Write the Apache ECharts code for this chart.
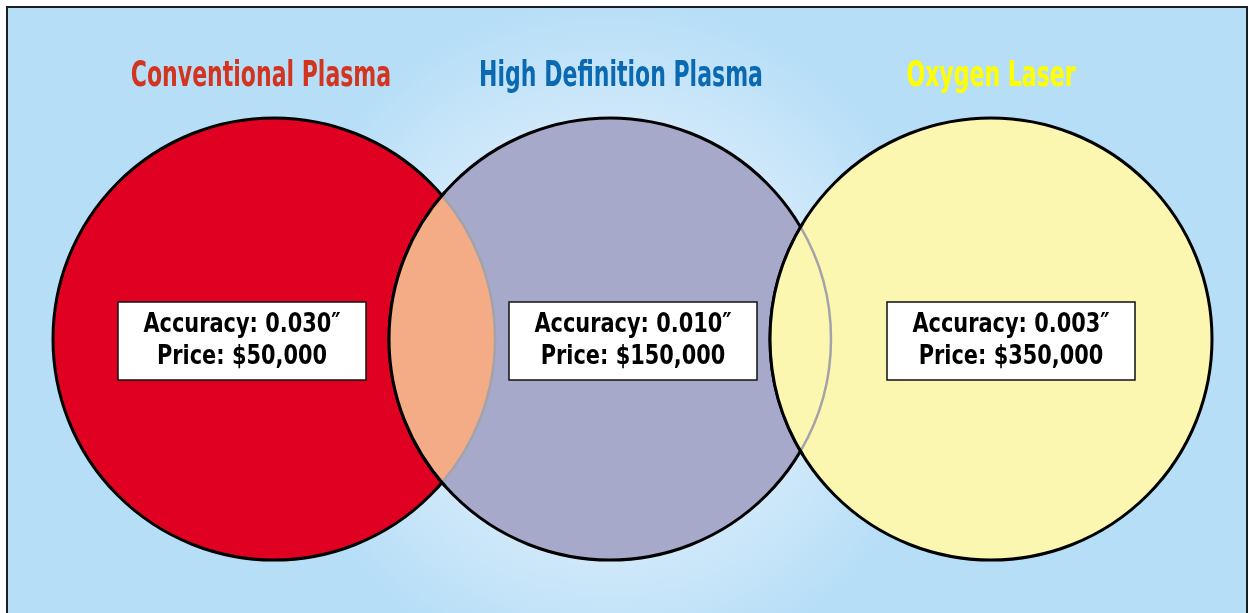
<!DOCTYPE html>
<html>
<head>
<meta charset="utf-8">
<script src="https://cdn.jsdelivr.net/npm/echarts@6/dist/echarts.min.js"></script>
<style>
html,body{margin:0;padding:0;background:#fff;}
#main{width:1249px;height:613px;}
</style>
</head>
<body>
<div id="main"></div>
<script>
// cutting processes compared in the diagram
const processes = ['Conventional Plasma', 'High Definition Plasma', 'Oxygen Laser'];
const accuracy = ['0.030″', '0.010″', '0.003″'];
const prices = ['$50,000', '$150,000', '$350,000'];
// neighbouring circles that overlap
const overlaps = [[0, 1], [1, 2]];

// layout, in units of the hidden axes (1 unit = 1px)
const circleX = [274, 610, 991];
const circleY = 339;
const radius = 221;
const titleX = [261, 621, 991];
const titleY = 77;
const boxX = [242, 633, 1011];
const boxY = 341;

const fills = ['#E00022', '#A6A9C9', '#FBF7B0'];
const titleColors = ['#D2341F', '#0A69B0', '#FFFF00'];
const overlapFills = ['#F4AC87', '#FBF7B0'];
const font = '"DejaVu Sans Condensed", "Liberation Sans Narrow", "Liberation Sans", sans-serif';

const chart = echarts.init(document.getElementById('main'));

function circlePx(api, i) {
  const c = api.coord([circleX[i], circleY]);
  const r = api.size([radius, 0])[0];
  return { x: c[0], y: c[1], r: r };
}

const option = {
  backgroundColor: '#fff',
  animation: false,
  grid: { left: 0, right: 0, top: 0, bottom: 0 },
  xAxis: { type: 'value', min: 0, max: 1249, show: false },
  yAxis: { type: 'value', min: 0, max: 613, inverse: true, show: false },
  graphic: [{
    type: 'rect',
    z: -10,
    shape: { x: 7, y: 7, width: 1240, height: 640 },
    style: {
      fill: new echarts.graphic.RadialGradient(610, 339, 340, [
        { offset: 0, color: '#E4F3FD' },
        { offset: 0.65, color: '#CFE8FA' },
        { offset: 1, color: '#B6DEF7' }
      ], true),
      stroke: '#1a1f26',
      lineWidth: 2
    }
  }],
  series: [
    {
      // the three circles
      type: 'custom',
      name: 'circles',
      z: 2,
      data: processes.map((p, i) => [circleX[i], circleY]),
      renderItem: function (params, api) {
        const i = params.dataIndex;
        const c = circlePx(api, i);
        return {
          type: 'circle',
          shape: { cx: c.x, cy: c.y, r: c.r },
          style: { fill: fills[i], stroke: '#000', lineWidth: 3 }
        };
      }
    },
    {
      // overlapping lens areas and their edges
      type: 'custom',
      name: 'overlaps',
      z: 3,
      data: overlaps.map(o => [o[0], o[1]]),
      renderItem: function (params, api) {
        const k = params.dataIndex;
        const a = circlePx(api, overlaps[k][0]);
        const b = circlePx(api, overlaps[k][1]);
        const d = b.x - a.x;
        const mx = (a.x + b.x) / 2;
        const h = Math.sqrt(a.r * a.r - d * d / 4);
        const th = Math.acos(d / 2 / a.r);
        const r = a.r;
        return {
          type: 'group',
          children: [
            {
              type: 'path',
              shape: {
                pathData: 'M' + mx + ',' + (a.y - h) +
                  ' A' + r + ',' + r + ' 0 0 0 ' + mx + ',' + (a.y + h) +
                  ' A' + r + ',' + r + ' 0 0 0 ' + mx + ',' + (a.y - h) + ' Z'
              },
              style: { fill: overlapFills[k] }
            },
            {
              type: 'arc',
              shape: { cx: a.x, cy: a.y, r: r, startAngle: -th, endAngle: th, clockwise: true },
              style: { fill: null, stroke: '#A3A3A8', lineWidth: 2.5 }
            },
            {
              type: 'arc',
              shape: { cx: b.x, cy: b.y, r: r, startAngle: Math.PI - th - 0.02, endAngle: Math.PI + th + 0.02, clockwise: true },
              style: { fill: null, stroke: '#000', lineWidth: 3 }
            }
          ]
        };
      }
    },
    {
      // titles and the info boxes
      type: 'custom',
      name: 'labels',
      z: 4,
      data: processes.map((p, i) => [boxX[i], boxY]),
      renderItem: function (params, api) {
        const i = params.dataIndex;
        const t = api.coord([titleX[i], titleY]);
        const bx = api.coord([boxX[i], boxY]);
        return {
          type: 'group',
          children: [
            {
              type: 'text',
              x: t[0], y: t[1],
              scaleX: 0.68,
              style: {
                text: processes[i], x: 0, y: 0,
                fill: titleColors[i],
                font: 'bold 36px ' + font,
                align: 'center', verticalAlign: 'middle'
              }
            },
            {
              type: 'rect',
              shape: { x: bx[0] - 124, y: bx[1] - 39, width: 248, height: 78 },
              style: { fill: '#fff', stroke: '#111', lineWidth: 1.5 }
            },
            {
              type: 'text',
              x: bx[0], y: bx[1] - 16,
              scaleX: 0.86,
              style: {
                text: 'Accuracy: ' + accuracy[i], x: 0, y: 0,
                fill: '#000', font: 'bold 27px ' + font,
                align: 'center', verticalAlign: 'middle'
              }
            },
            {
              type: 'text',
              x: bx[0], y: bx[1] + 16,
              scaleX: 0.86,
              style: {
                text: 'Price: ' + prices[i], x: 0, y: 0,
                fill: '#000', font: 'bold 27px ' + font,
                align: 'center', verticalAlign: 'middle'
              }
            }
          ]
        };
      }
    }
  ]
};

chart.setOption(option);
</script>
</body>
</html>
